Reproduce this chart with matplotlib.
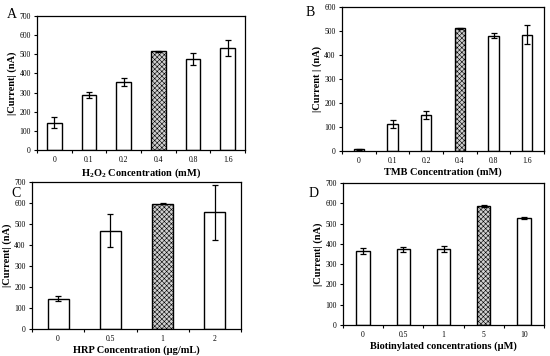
import numpy as np
import matplotlib.pyplot as plt
from matplotlib.ticker import FixedLocator

plt.rcParams['font.family'] = ['Liberation Serif', 'DejaVu Serif']
plt.rcParams['mathtext.fontset'] = 'custom'
plt.rcParams['mathtext.rm'] = 'Liberation Serif'
plt.rcParams['mathtext.bf'] = 'Liberation Serif:bold'
plt.rcParams['hatch.color'] = '#8a8a8a'
plt.rcParams['hatch.linewidth'] = 0.4

# panel A - H2O2
a_labels = ["0", "0.1", "0.2", "0.4", "0.8", "1.6"]
a_vals = [143, 288, 355, 515, 476, 535]
a_err = [30, 15, 22, 3, 33, 42]

# panel B - TMB
b_labels = ["0", "0.1", "0.2", "0.4", "0.8", "1.6"]
b_vals = [8, 113, 150, 512, 480, 485]
b_err = [2, 18, 17, 2, 10, 38]

# panel C - HRP
c_labels = ["0", "0.5", "1", "2"]
c_vals = [145, 468, 597, 555]
c_err = [12, 78, 2, 132]

# panel D - biotinylated
d_labels = ["0", "0.5", "1", "5", "10"]
d_vals = [365, 373, 375, 585, 527]
d_err = [15, 12, 15, 5, 3]

W, H = 550, 356
fig = plt.figure(figsize=(5.5, 3.56), dpi=100)


def panel(px, labels, vals, err, hl, ymax, xlabel, ylabel, letter, lpos, width):
    l, t, r, b = px
    ax = fig.add_axes([l / W, 1 - b / H, (r - l) / W, (b - t) / H])
    x = np.arange(len(labels))
    for i in range(len(labels)):
        if i == hl:
            ax.bar(x[i], vals[i], width, color='#d0d0d0', edgecolor='black',
                   linewidth=1.0, hatch='xxxxxxx', zorder=2)
        else:
            ax.bar(x[i], vals[i], width, color='white', edgecolor='black',
                   linewidth=1.0, zorder=2)
    ax.errorbar(x, vals, yerr=err, fmt='none', ecolor='black', elinewidth=0.9,
                capsize=2, capthick=0.9, zorder=3)
    ax.set_xlim(-0.5, len(labels) - 0.5)
    ax.set_ylim(0, ymax)
    ax.set_yticks(np.arange(0, ymax + 1, 100))
    ax.set_xticks(x)
    ax.set_xticklabels(labels)
    ax.xaxis.set_minor_locator(FixedLocator(np.arange(-0.5, len(labels), 1.0)))
    ax.tick_params(axis='x', which='major', length=0, labelsize=5.5, pad=4)
    ax.tick_params(axis='x', which='minor', length=2.5, width=0.8, direction='out')
    ax.tick_params(axis='y', length=2.5, width=0.8, labelsize=5.5, pad=2)
    for s in ax.spines.values():
        s.set_linewidth(0.9)
    ax.set_xlabel(xlabel, fontsize=7.5, fontweight='bold', labelpad=2)
    ax.set_ylabel(ylabel, fontsize=7.5, fontweight='bold', labelpad=2)
    fig.text(lpos[0] / W, 1 - lpos[1] / H, letter, fontsize=10, ha='left', va='center')
    return ax


panel((37, 16, 245, 150), a_labels, a_vals, a_err, 3, 700,
      r"$\mathbf{H_2O_2}$ Concentration (mM)", "|Current| (nA)", "A", (7, 14), 0.42)
panel((342, 7, 544, 151), b_labels, b_vals, b_err, 3, 600,
      "TMB Concentration (mM)", "|Current | (nA)", "B", (306, 13), 0.31)
panel((32, 182, 241, 329), c_labels, c_vals, c_err, 2, 700,
      "HRP Concentration (\u03bcg/mL)", "|Current| (nA)", "C", (11, 193), 0.4)
panel((343, 183, 544, 325), d_labels, d_vals, d_err, 3, 700,
      "Biotinylated concentrations (\u03bcM)", "|Current| (nA)", "D", (309, 193), 0.33)

fig.savefig("out.png", dpi=100)
